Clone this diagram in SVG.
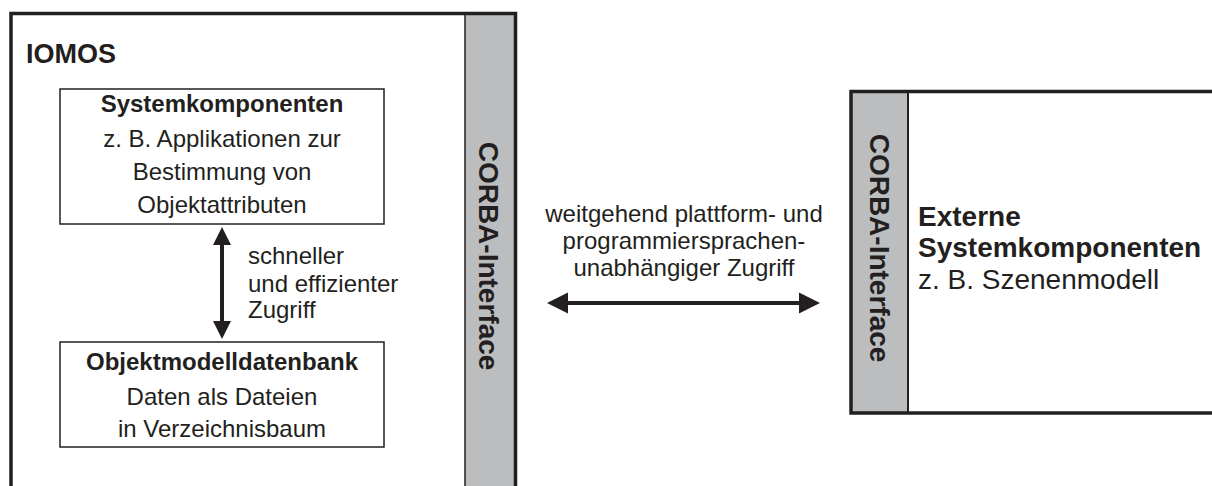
<svg xmlns="http://www.w3.org/2000/svg" width="1212" height="486" viewBox="0 0 1212 486">
<style>
text{font-family:"Liberation Sans",Arial,sans-serif;fill:#231f20}
.b{font-weight:bold}
.m{text-anchor:middle}
.frame{fill:none;stroke:#231f20;stroke-width:3.5}
.box{fill:#fff;stroke:#231f20;stroke-width:1.5}
.strip{fill:#bcbdbf}
.ln{stroke:#231f20;stroke-width:4;fill:none}
.hd{fill:#231f20}
</style>
<rect width="1212" height="486" fill="#fff"/>
<g id="iomos">
<rect class="strip" x="465" y="13" width="50" height="480"/>
<line x1="465" y1="13" x2="465" y2="490" stroke="#231f20" stroke-width="1.5"/>
<path class="frame" d="M11,490 L11,13.5 L515.5,13.5 L515.5,490"/>
<text class="b" x="26" y="63" font-size="27">IOMOS</text>
<text class="b m" transform="translate(479,256) rotate(90)" font-size="28">CORBA-Interface</text>
</g>
<g id="systemkomponenten">
<rect class="box" x="60" y="89" width="324" height="135"/>
<text class="b m" x="222" y="112" font-size="24">Systemkomponenten</text>
<text class="m" x="222" y="147" font-size="24">z. B. Applikationen zur</text>
<text class="m" x="222" y="180" font-size="24">Bestimmung von</text>
<text class="m" x="222" y="213" font-size="24">Objektattributen</text>
</g>
<g id="objektmodelldatenbank">
<rect class="box" x="60" y="342" width="324" height="105"/>
<text class="b m" x="222" y="370" font-size="24">Objektmodelldatenbank</text>
<text class="m" x="222" y="405" font-size="24">Daten als Dateien</text>
<text class="m" x="222" y="437" font-size="24">in Verzeichnisbaum</text>
</g>
<g id="extern">
<rect class="strip" x="851" y="91.5" width="57" height="321.5"/>
<line x1="908" y1="91.5" x2="908" y2="413" stroke="#231f20" stroke-width="2"/>
<path class="frame" d="M1215,91.5 L851,91.5 L851,413 L1215,413"/>
<text class="b m" transform="translate(870,248) rotate(90)" font-size="28">CORBA-Interface</text>
<text class="b" x="918" y="226" font-size="28">Externe</text>
<text class="b" x="918" y="257" font-size="28">Systemkomponenten</text>
<text x="918" y="289" font-size="28">z. B. Szenenmodell</text>
</g>
<g id="connectors">
<line class="ln" x1="222" y1="243" x2="222" y2="323"/>
<polygon class="hd" points="222,227 213,245 231,245"/>
<polygon class="hd" points="222,339 213,321 231,321"/>
<text x="248" y="264" font-size="24">schneller</text>
<text x="248" y="292" font-size="24">und effizienter</text>
<text x="248" y="318" font-size="24">Zugriff</text>
<line class="ln" x1="566" y1="303" x2="801" y2="303"/>
<polygon class="hd" points="547,303 568,292.5 568,313.5"/>
<polygon class="hd" points="820,303 799,292.5 799,313.5"/>
<text class="m" x="684" y="222" font-size="24">weitgehend plattform- und</text>
<text class="m" x="684" y="249" font-size="24">programmiersprachen-</text>
<text class="m" x="684" y="276" font-size="24">unabhängiger Zugriff</text>
</g>
</svg>
